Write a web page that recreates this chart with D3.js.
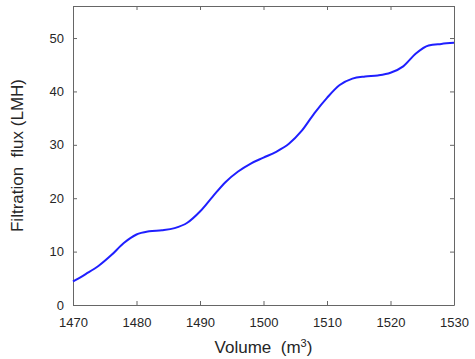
<!DOCTYPE html>
<html>
<head>
<meta charset="utf-8">
<script src="https://cdn.jsdelivr.net/npm/d3@7"></script>
<style>
  body { margin: 0; background: #fff; }
  text { font-family: "Liberation Sans", Arial, sans-serif; fill: #262626; }
</style>
</head>
<body>
<div id="chart"></div>
<script>
const volume = [1470, 1472, 1474, 1476, 1478, 1480, 1482, 1484, 1486, 1488, 1490,
  1492, 1494, 1496, 1498, 1500, 1502, 1504, 1506, 1508, 1510,
  1512, 1514, 1516, 1518, 1520, 1522, 1524, 1526, 1528, 1530];
const flux = [4.4, 5.8, 7.3, 9.3, 11.6, 13.2, 13.8, 14.0, 14.4, 15.4, 17.5,
  20.3, 23.0, 25.0, 26.5, 27.6, 28.7, 30.2, 32.6, 35.9, 38.8,
  41.2, 42.4, 42.8, 43.0, 43.5, 44.7, 47.1, 48.6, 48.9, 49.1];
const xTicks = [1470, 1480, 1490, 1500, 1510, 1520, 1530];
const yTicks = [0, 10, 20, 30, 40, 50];

const width = 475;
const height = 359;
const margin = { top: 6, right: 21, bottom: 54, left: 73 };

const svg = d3.select("#chart")
  .append("svg")
  .attr("width", width)
  .attr("height", height);

const x = d3.scaleLinear()
  .domain([1470, 1530])
  .range([margin.left, width - margin.right]);

const y = d3.scaleLinear()
  .domain([0, 56])
  .range([height - margin.bottom, margin.top]);

const frame = "#666";
const fmt = d3.format("d");

// axes, MATLAB style: ticks inside, mirrored
const xAxis = svg.append("g")
  .attr("transform", `translate(0,${y(0)})`)
  .call(d3.axisBottom(x).tickValues(xTicks).tickFormat(fmt).tickSizeInner(-4).tickSizeOuter(0).tickPadding(13));
const xTop = svg.append("g")
  .attr("transform", `translate(0,${margin.top})`)
  .call(d3.axisTop(x).tickValues(xTicks).tickSizeInner(-4).tickSizeOuter(0).tickFormat(""));
const yAxis = svg.append("g")
  .attr("transform", `translate(${margin.left},0)`)
  .call(d3.axisLeft(y).tickValues(yTicks).tickFormat(fmt).tickSizeInner(-4).tickSizeOuter(0).tickPadding(9));
const yRight = svg.append("g")
  .attr("transform", `translate(${width - margin.right},0)`)
  .call(d3.axisRight(y).tickValues(yTicks).tickSizeInner(-4).tickSizeOuter(0).tickFormat(""));

[xAxis, xTop, yAxis, yRight].forEach(g => {
  g.select(".domain").attr("stroke", frame);
  g.selectAll(".tick line").attr("stroke", frame);
  g.selectAll(".tick text")
    .style("font-family", "'Liberation Sans', Arial, sans-serif")
    .style("font-size", "13px")
    .attr("fill", "#262626");
});

const line = d3.line()
  .x((d, i) => x(volume[i]))
  .y(d => y(d))
  .curve(d3.curveMonotoneX);

svg.append("path")
  .datum(flux)
  .attr("fill", "none")
  .attr("stroke", "#1f1fff")
  .attr("stroke-width", 2)
  .attr("d", line);

svg.append("text")
  .attr("x", (margin.left + width - margin.right) / 2)
  .attr("y", 353)
  .attr("text-anchor", "middle")
  .style("font-size", "17px")
  .html("Volume &#160;(m<tspan dy='-6' font-size='11px'>3</tspan><tspan dy='6'>)</tspan>");

svg.append("text")
  .attr("transform", `translate(23,${(margin.top + height - margin.bottom) / 2}) rotate(-90)`)
  .attr("text-anchor", "middle")
  .style("font-size", "17px")
  .text("Filtration\u00a0 flux (LMH)");
</script>
</body>
</html>
